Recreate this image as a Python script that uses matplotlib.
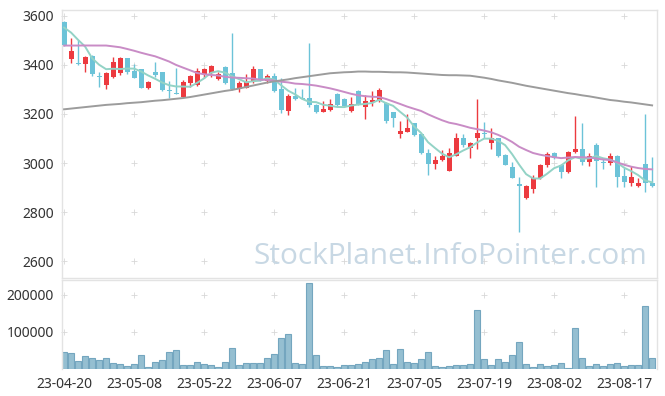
"""Daily candlestick chart with moving averages and volume."""

import numpy as np
import pandas as pd
import matplotlib
matplotlib.use("Agg")
import matplotlib.pyplot as plt

plt.rcParams["font.family"] = ["Noto Sans", "DejaVu Sans"]

# KRX trading days (market holidays removed)
holidays = ["2023-05-01", "2023-05-05", "2023-05-29", "2023-06-06", "2023-08-15"]
dates = pd.bdate_range("2023-04-20", periods=85, freq="C", holidays=holidays)

open_ = [3574, 3426, 3406, 3405, 3437, 3353, 3320, 3350, 3369, 3427,
         3376, 3382, 3307, 3370, 3370, 3296, 3285, 3271, 3327, 3318,
         3362, 3369, 3342, 3392, 3366, 3302, 3307, 3332, 3382, 3336,
         3355, 3300, 3213, 3273, 3266, 3264, 3237, 3209, 3216, 3282,
         3261, 3213, 3294, 3230, 3248, 3254, 3244, 3207, 3120, 3128,
         3162, 3117, 3040, 2996, 3013, 2969, 3030, 3101, 3060, 3103,
         3123, 3080, 3101, 3033, 2985, 2914, 2858, 2894, 2937, 2992,
         3040, 2992, 2962, 3044, 3056, 3005, 3073, 3003, 2999, 3028,
         2947, 2917, 2907, 2996, 2917]
high = [3580, 3509, 3500, 3436, 3441, 3373, 3372, 3431, 3434, 3430,
        3403, 3384, 3333, 3413, 3373, 3335, 3386, 3339, 3358, 3389,
        3388, 3400, 3373, 3395, 3529, 3335, 3362, 3397, 3385, 3362,
        3369, 3346, 3280, 3305, 3300, 3491, 3240, 3253, 3261, 3285,
        3264, 3271, 3297, 3277, 3294, 3307, 3247, 3210, 3173, 3199,
        3165, 3120, 3056, 3030, 3053, 3062, 3121, 3117, 3085, 3260,
        3169, 3141, 3104, 3036, 3006, 2941, 2910, 2951, 2995, 3045,
        3046, 2995, 3047, 3192, 3162, 3040, 3080, 3019, 3040, 3031,
        2980, 2988, 2940, 3200, 3026]
low = [3478, 3407, 3398, 3370, 3355, 3310, 3302, 3346, 3360, 3365,
       3345, 3305, 3303, 3352, 3294, 3264, 3280, 3268, 3309, 3315,
       3348, 3350, 3340, 3322, 3298, 3290, 3304, 3328, 3333, 3328,
       3290, 3203, 3196, 3255, 3260, 3228, 3205, 3206, 3213, 3234,
       3230, 3210, 3236, 3179, 3233, 3250, 3165, 3148, 3102, 3125,
       3110, 3037, 2951, 2975, 3010, 2966, 3027, 3065, 3019, 3056,
       3101, 3059, 3026, 2990, 2937, 2720, 2855, 2876, 2934, 2985,
       3016, 2937, 2959, 3041, 2992, 2986, 2901, 2977, 2990, 2901,
       2901, 2906, 2904, 2883, 2904]
close = [3482, 3457, 3402, 3433, 3363, 3349, 3366, 3411, 3427, 3373,
         3348, 3307, 3331, 3359, 3297, 3292, 3282, 3329, 3355, 3376,
         3384, 3396, 3362, 3325, 3302, 3325, 3332, 3384, 3336, 3355,
         3295, 3216, 3273, 3261, 3263, 3235, 3209, 3220, 3241, 3237,
         3233, 3241, 3240, 3253, 3257, 3298, 3173, 3185, 3131, 3142,
         3114, 3040, 2996, 3012, 3028, 3040, 3101, 3073, 3080, 3124,
         3119, 3101, 3029, 2992, 2940, 2906, 2906, 2940, 2992, 3037,
         3019, 2962, 3044, 3056, 3005, 3028, 3009, 2999, 3028, 2944,
         2924, 2941, 2917, 2917, 2907]
volume = [46, 43, 21, 34, 29, 23, 31, 17, 14, 9,
          14, 37, 6, 20, 23, 46, 51, 11, 11, 20,
          14, 11, 6, 20, 57, 11, 17, 17, 17, 31,
          40, 83, 94, 17, 14, 231, 37, 9, 9, 6,
          11, 11, 14, 20, 26, 31, 51, 14, 54, 20,
          17, 26, 46, 9, 6, 9, 11, 11, 14, 160,
          26, 11, 26, 20, 37, 74, 14, 6, 14, 9,
          11, 17, 3, 111, 29, 9, 14, 9, 14, 17,
          9, 11, 11, 171, 29]  # thousands of shares

# closes before the first shown day (needed to start the 5/20-day averages)
pre_close = [3457, 3400, 3430, 3365, 3350, 3366, 3480, 3500, 3510, 3495,
             3470, 3480, 3500, 3505, 3510, 3560, 3550, 3570, 3600]

# 60-day average
ma60 = [3219, 3222, 3225, 3228, 3231, 3234, 3237, 3239, 3241, 3244,
        3246, 3248, 3251, 3254, 3256, 3259, 3262, 3265, 3269, 3274,
        3279, 3284, 3289, 3294, 3298, 3304, 3310, 3316, 3322, 3328,
        3333, 3337, 3341, 3346, 3350, 3354, 3358, 3362, 3366, 3368,
        3370, 3371, 3373, 3373, 3372, 3372, 3371, 3370, 3370, 3369,
        3367, 3365, 3363, 3361, 3359, 3358, 3358, 3357, 3356, 3352,
        3348, 3343, 3337, 3332, 3327, 3321, 3315, 3310, 3305, 3300,
        3295, 3290, 3285, 3281, 3276, 3272, 3267, 3262, 3257, 3254,
        3250, 3247, 3243, 3239, 3235]

price_ticks = [2600, 2800, 3000, 3200, 3400, 3600]
vol_ticks = [100000, 200000]

RED = "#ec3a3f"
BLUE = "#6cc3d8"
FRAME = "#e3e3e3"

x = np.arange(len(dates))
o = np.array(open_)
c = np.array(close)
up = c >= o
colors = np.where(up, RED, BLUE)

closes_all = pd.Series(pre_close + close, dtype=float)
ma5 = closes_all.rolling(5).mean().iloc[len(pre_close):].to_numpy()
ma20 = closes_all.rolling(20).mean().iloc[len(pre_close):].to_numpy()

fig = plt.figure(figsize=(6.65, 3.96), dpi=100)
ax = fig.add_axes([62 / 665, 118 / 396, 595 / 665, 268 / 396])
axv = fig.add_axes([62 / 665, 27 / 396, 595 / 665, 89 / 396], sharex=ax)

# candles
ax.vlines(x, low, high, colors=colors, lw=1.0, zorder=2)
body_lo = np.minimum(o, c)
body_h = np.maximum(np.abs(c - o), 4)
ax.bar(x, body_h, bottom=body_lo, width=0.72, color=colors, linewidth=0, zorder=3)

ax.plot(x, ma5, color="#93d3c6", lw=1.4, zorder=4)
ax.plot(x, ma20, color="#c98cc6", lw=1.4, zorder=4)
ax.plot(x, ma60, color="#9c9c9c", lw=1.4, zorder=4)

ax.text(0.652, 0.08, "StockPlanet.InfoPointer.com", transform=ax.transAxes,
        ha="center", va="center", fontsize=21.5, color="#c8d8e4",
        family=["Open Sans", "DejaVu Sans"], zorder=1)

# volume
axv.bar(x, np.array(volume) * 1000, width=0.86, color="#95bfd1",
        edgecolor="#74a6bf", linewidth=0.8, zorder=2)

tick_idx = x[::10]
for a, yt in ((ax, price_ticks), (axv, vol_ticks)):
    gx, gy = np.meshgrid(tick_idx, yt)
    a.scatter(gx.ravel(), gy.ravel(), marker="+", s=18, lw=0.6,
              color="#d8d8d8", zorder=0, clip_on=False)
    a.set_yticks(yt)
    a.tick_params(length=0, labelsize=10, colors="#333333", pad=6)
    for s in a.spines.values():
        s.set_color(FRAME)
        s.set_linewidth(1.0)

ax.set_xlim(-0.3, 84.7)
ax.set_ylim(2531, 3624)
axv.set_ylim(0, 240000)
axv.spines["bottom"].set_visible(False)

axv.set_xticks(tick_idx)
axv.set_xticklabels([d.strftime("%y-%m-%d") for d in dates[::10]])
plt.setp(ax.get_xticklabels(), visible=False)

fig.savefig("out.png", dpi=100)
